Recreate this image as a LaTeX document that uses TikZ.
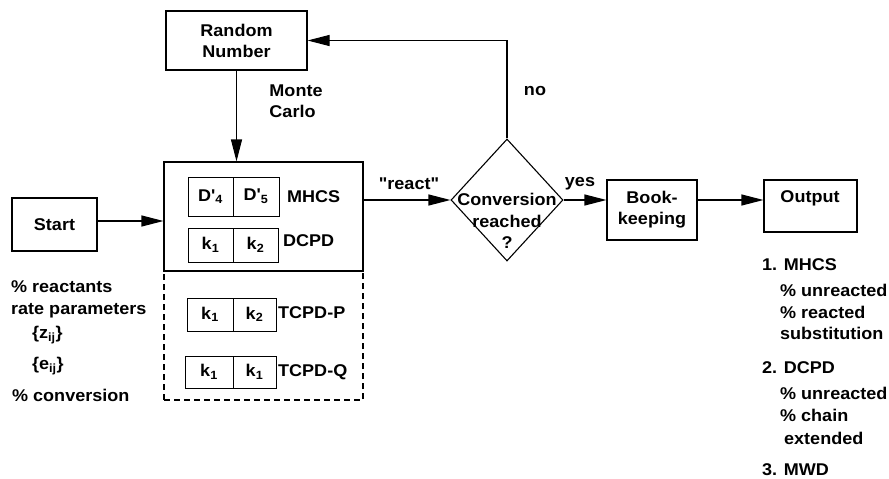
\documentclass[tikz,border=0pt]{standalone}
\usepackage{fontspec}
\setmainfont[FakeStretch=1.06,Ligatures=TeXOff]{Liberation Sans}
\usetikzlibrary{arrows.meta,shapes.geometric}
\begin{document}
\begin{tikzpicture}[x=1pt,y=-1pt,
  every node/.style={font=\fontsize{17}{21}\selectfont\bfseries},
  box/.style={draw,line width=1.1pt,inner sep=0pt,align=center},
  cell/.style={draw,line width=1pt,inner sep=0pt},
  txt/.style={inner sep=0pt,anchor=west},
  flow/.style={line width=1.1pt,-{Triangle[length=22pt,width=11pt]}}]
\useasboundingbox (0,0) rectangle (889,479);

% main blocks
\node[box,minimum width=141pt,minimum height=59pt] (rn) at (236.5,40.5) {Random\\Number};
\node[box,minimum width=85pt,minimum height=53pt] (start) at (54.5,224.5) {Start};
\node[box,dashed,dash pattern=on 6pt off 4pt,minimum width=199pt,minimum height=129pt] (lower) at (263.5,335.5) {};
\node[box,minimum width=199pt,minimum height=109pt] (main) at (263.5,216.5) {};
\node[diamond,draw,line width=1.1pt,inner sep=0pt,minimum width=112pt,minimum height=122pt] (dec) at (507,200) {};
\node[inner sep=0pt,align=center,font=\fontsize{17}{21.5}\selectfont\bfseries] (dectext) at (507,221) {Conversion\\reached\\?};
\node[box,minimum width=90pt,minimum height=60pt] (book) at (652,210) {Book-\\keeping};
\node[box,minimum width=93pt,minimum height=52pt] (out) at (810.5,206) {};
\node[inner sep=0pt] (outtext) at (810,198) {Output};

% parameter cells inside the reaction block
\node[cell,minimum width=45pt,minimum height=39pt] (d4) at (210.5,196.5) {D'\textsubscript{4}};
\node[cell,minimum width=46pt,minimum height=39pt] (d5) at (256,196.5) {D'\textsubscript{5}};
\node[txt] (mhcs) at (287,197) {MHCS};
\node[cell,minimum width=45pt,minimum height=34pt] (ka1) at (210.5,245) {k\textsubscript{1}};
\node[cell,minimum width=45pt,minimum height=34pt] (ka2) at (255.5,245) {k\textsubscript{2}};
\node[txt] (dcpd) at (283,241) {DCPD};
\node[cell,minimum width=46pt,minimum height=33pt] (kb1) at (210,314.5) {k\textsubscript{1}};
\node[cell,minimum width=43pt,minimum height=33pt] (kb2) at (254.5,314.5) {k\textsubscript{2}};
\node[txt] (tcpdp) at (278,313) {TCPD-P};
\node[cell,minimum width=48pt,minimum height=32pt] (kc1) at (209,372) {k\textsubscript{1}};
\node[cell,minimum width=43pt,minimum height=32pt] (kc2) at (254.5,372) {k\textsubscript{1}};
\node[txt] (tcpdq) at (278,372) {TCPD-Q};

% connectors
\draw[flow] (rn.south) -- (rn.south |- main.north);
\draw[flow] ([yshift=3.5pt]start.east) -- ([yshift=3.5pt]start.east -| main.west);
\draw[flow] (dec.west -| main.east) -- (dec.west);
\draw[flow] (dec.east) -- (dec.east -| book.west);
\draw[flow] (dec.east -| book.east) -- (dec.east -| out.west);
\draw[flow] (dec.north) |- (rn.east);

% connector labels
\node[inner sep=0pt,align=left] (mc) at (296,101) {Monte\\Carlo};
\node[inner sep=0pt] (react) at (409,184) {"react"};
\node[inner sep=0pt] (no) at (535,91) {no};
\node[inner sep=0pt] (yes) at (580,184) {yes};

% inputs
\node[txt] (in1) at (11,287) {\% reactants};
\node[txt] (in2) at (11,311) {rate parameters};
\node[txt] (in3) at (32,335) {\{z\textsubscript{ij}\}};
\node[txt] (in4) at (32,366) {\{e\textsubscript{ij}\}};
\node[txt] (in5) at (12,395) {\% conversion};

% outputs
\node[txt] (o1) at (762,265) {1. MHCS};
\node[txt] (o2) at (780,290) {\% unreacted};
\node[txt] (o3) at (780,312) {\% reacted};
\node[txt] (o4) at (780,333) {substitution};
\node[txt] (o5) at (762,368) {2. DCPD};
\node[txt] (o6) at (780,393) {\% unreacted};
\node[txt] (o7) at (780,415) {\% chain};
\node[txt] (o8) at (784,438) {extended};
\node[txt] (o9) at (762,470) {3. MWD};
\end{tikzpicture}
\end{document}
